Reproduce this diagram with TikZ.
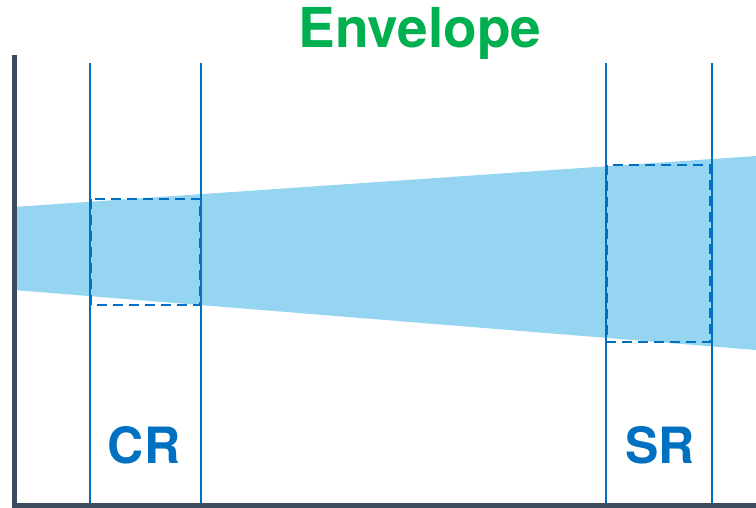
\documentclass[tikz,border=0pt]{standalone}
\usepackage{fontspec}
\setmainfont{TeX Gyre Heros}
\usetikzlibrary{positioning}
\definecolor{axisgray}{HTML}{3D4B5E}
\definecolor{regblue}{HTML}{0070C0}
\definecolor{bandblue}{HTML}{95D5F2}
\definecolor{envgreen}{HTML}{00B050}
\tikzset{
  axisline/.style ={draw=axisgray, line width=5pt},
  regline/.style  ={draw=regblue, line width=2.6pt},
  regbox/.style   ={draw=regblue, line width=2.8pt, dash pattern=on 10pt off 6pt},
  reglabel/.style ={font=\fontsize{50}{50}\selectfont\bfseries, text=regblue, inner sep=0pt},
  title/.style    ={font=\fontsize{55}{55}\selectfont\bfseries, text=envgreen, inner sep=0pt},
}
\begin{document}
\begin{tikzpicture}[x=1pt, y=-1pt]
  \useasboundingbox (0,0) rectangle (756,508);
  % beam envelope
  \fill[bandblue] (14,207) -- (756,156) -- (756,350) -- (14,290) -- cycle;
  % region boundaries
  \coordinate (cr1t) at (90,63);   \coordinate (cr1b) at (90,505);
  \coordinate (cr2t) at (201,63);  \coordinate (cr2b) at (201,505);
  \coordinate (sr1t) at (606,63);  \coordinate (sr1b) at (606,505);
  \coordinate (sr2t) at (712,63);  \coordinate (sr2b) at (712,505);
  \draw[regline] (cr1t) -- (cr1b);
  \draw[regline] (cr2t) -- (cr2b);
  \draw[regline] (sr1t) -- (sr1b);
  \draw[regline] (sr2t) -- (sr2b);
  % envelope extent inside each region
  \draw[regbox] (91,199) rectangle (200,305);
  \draw[regbox] (607,165) rectangle (710,342);
  % axes
  \coordinate (origin) at (14,505);
  \coordinate (ytop) at (14,55);
  \coordinate (xend) at (756,505);
  \draw[axisline] (ytop) -- (origin) -- (xend);
  % labels
  \node[reglabel] (cr) at (144,445) {CR};
  \node[reglabel] (sr) at (660,445) {SR};
  \node[title] (env) at (420,33) {Envelope};
\end{tikzpicture}
\end{document}
